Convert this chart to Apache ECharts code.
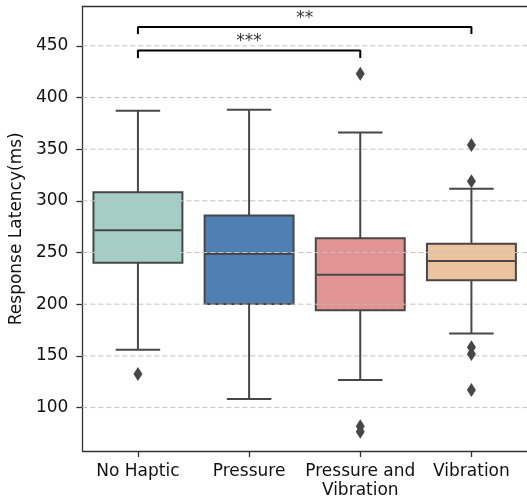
<!DOCTYPE html>
<html><head><meta charset="utf-8">
<script src="https://cdn.jsdelivr.net/npm/echarts@6/dist/echarts.min.js"></script>
<style>html,body{margin:0;padding:0;background:#fff}#c{width:527px;height:501px}</style>
</head><body><div id="c"></div>
<script>
const categories = ['No Haptic', 'Pressure', 'Pressure and\nVibration', 'Vibration'];
const lowerWhisker = [156, 108.4, 126.8, 171.6];
const q1 = [240, 200.3, 194.1, 223.1];
const median = [271.5, 248.6, 228.6, 241.9];
const q3 = [308.2, 285.7, 263.7, 258.6];
const upperWhisker = [387.2, 388.2, 366, 311.8];
const outliers = [[0, 132.6], [2, 423], [2, 81.9], [2, 76.6], [3, 354], [3, 318.9], [3, 158.3], [3, 151.9], [3, 117.1]];
const boxColors = ['#a4cec5', '#4f7fb3', '#e29393', '#edc29f'];
const yTicks = [100, 150, 200, 250, 300, 350, 400, 450];
const bracketFrom = [0, 0];
const bracketTo = [2, 3];
const bracketTop = [445.5, 468.2];
const bracketBottom = [438.2, 461.4];
const bracketLabels = ['***', '**'];

const FONT = 'DejaVu Sans';
const EDGE = '#474747';
const TXT = '#111';
const boxData = categories.map((c, i) => [i, lowerWhisker[i], q1[i], median[i], q3[i], upperWhisker[i]]);

function renderBox(params, api) {
  const i = api.value(0);
  const band = api.size([1, 0])[0];
  const w = band * 0.8;
  const x = api.coord([i, 0])[0];
  const yq1 = api.coord([i, api.value(2)])[1];
  const yq3 = api.coord([i, api.value(4)])[1];
  return { type: 'rect', shape: { x: x - w / 2, y: yq3, width: w, height: yq1 - yq3 },
    style: { fill: boxColors[i], stroke: EDGE, lineWidth: 2 } };
}
function renderWhisker(params, api) {
  const i = api.value(0);
  const band = api.size([1, 0])[0];
  const w = band * 0.8, cw = band * 0.4;
  const x = api.coord([i, 0])[0];
  const yl = api.coord([i, api.value(1)])[1];
  const yq1 = api.coord([i, api.value(2)])[1];
  const ym = api.coord([i, api.value(3)])[1];
  const yq3 = api.coord([i, api.value(4)])[1];
  const yu = api.coord([i, api.value(5)])[1];
  const st = { stroke: EDGE, lineWidth: 2 };
  return { type: 'group', children: [
    { type: 'line', shape: { x1: x, y1: yq3, x2: x, y2: yu }, style: st },
    { type: 'line', shape: { x1: x, y1: yq1, x2: x, y2: yl }, style: st },
    { type: 'line', shape: { x1: x - cw / 2, y1: yu, x2: x + cw / 2, y2: yu }, style: st },
    { type: 'line', shape: { x1: x - cw / 2, y1: yl, x2: x + cw / 2, y2: yl }, style: st },
    { type: 'line', shape: { x1: x - w / 2 + 1, y1: ym, x2: x + w / 2 - 1, y2: ym }, style: st }
  ] };
}
function renderGrid(params, api) {
  const cs = params.coordSys;
  const y = api.coord([0, api.value(1)])[1];
  return { type: 'line', shape: { x1: cs.x, y1: y, x2: cs.x + cs.width, y2: y },
    style: { stroke: '#c0c0c0', lineWidth: 1, lineDash: [5, 3] } };
}

const series = [
  { type: 'custom', name: 'boxes', xAxisIndex: 0, yAxisIndex: 0, z: 1, renderItem: renderBox,
    data: boxData, encode: { x: 0, y: [1, 2, 3, 4, 5] }, silent: true },
  { type: 'custom', name: 'grid', xAxisIndex: 1, yAxisIndex: 0, z: 2, renderItem: renderGrid,
    data: yTicks.map(v => [0, v]), encode: { x: 0, y: 1 }, silent: true },
  { type: 'custom', name: 'whiskers', xAxisIndex: 0, yAxisIndex: 0, z: 3, renderItem: renderWhisker,
    data: boxData, encode: { x: 0, y: [1, 2, 3, 4, 5] }, silent: true },
  { type: 'scatter', name: 'outliers', xAxisIndex: 0, yAxisIndex: 0, z: 4, symbol: 'diamond',
    symbolSize: [9, 14], itemStyle: { color: EDGE, opacity: 1 }, data: outliers, silent: true }
];
bracketLabels.forEach((lab, k) => {
  series.push({ type: 'line', xAxisIndex: 1, yAxisIndex: 0, z: 5, symbol: 'none', silent: true,
    lineStyle: { color: '#000', width: 2 },
    data: [[bracketFrom[k], bracketBottom[k]], [bracketFrom[k], bracketTop[k]], [bracketTo[k], bracketTop[k]], [bracketTo[k], bracketBottom[k]]] });
  series.push({ type: 'scatter', xAxisIndex: 1, yAxisIndex: 0, z: 5, symbolSize: 0, silent: true,
    label: { show: true, position: 'top', distance: 0, formatter: lab, fontFamily: FONT, fontSize: 17, color: '#000' },
    data: [[(bracketFrom[k] + bracketTo[k]) / 2, bracketTop[k]]] });
});

const option = {
  animation: false,
  backgroundColor: '#fff',
  grid: { left: 82, right: -2, top: 6.5, bottom: 50, containLabel: false },
  xAxis: [
    { type: 'category', data: categories, position: 'bottom', boundaryGap: true,
      axisLine: { show: true, lineStyle: { color: '#333', width: 1.3 } },
      axisTick: { show: true, alignWithLabel: true, length: 6, lineStyle: { color: '#333', width: 1.3 } },
      axisLabel: { fontFamily: FONT, fontSize: 17, color: TXT, margin: 11, lineHeight: 19, interval: 0 },
      splitLine: { show: false } },
    { type: 'value', min: -0.5, max: 3.5, position: 'top',
      axisLine: { show: true, onZero: false, lineStyle: { color: '#333', width: 1.3 } },
      axisTick: { show: false }, axisLabel: { show: false }, splitLine: { show: false } }
  ],
  yAxis: [
    { type: 'value', min: 58, max: 488,
      name: 'Response Latency(ms)', nameLocation: 'middle', nameGap: 52,
      nameTextStyle: { fontFamily: FONT, fontSize: 17, color: TXT },
      axisLine: { show: true, onZero: false, lineStyle: { color: '#333', width: 1.3 } },
      axisTick: { show: true, length: 6, customValues: yTicks, lineStyle: { color: '#333', width: 1.3 } },
      axisLabel: { customValues: yTicks, fontFamily: FONT, fontSize: 17, color: TXT, margin: 14 },
      splitLine: { show: false } }
  ],
  series: series
};
const chart = echarts.init(document.getElementById('c'), null, { renderer: 'canvas' });
chart.setOption(option);
</script>
</body></html>
